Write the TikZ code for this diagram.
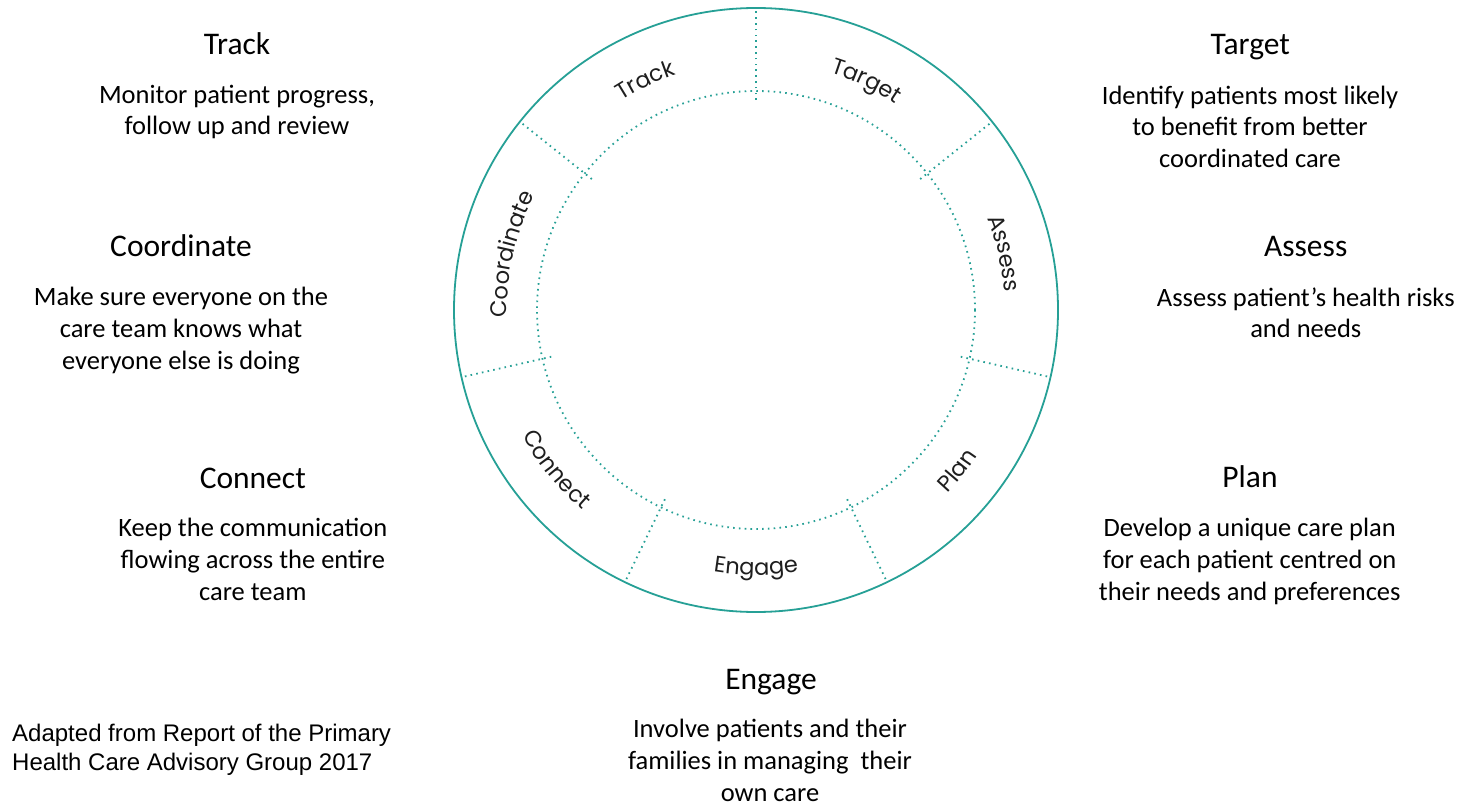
\documentclass[tikz,border=0pt]{standalone}
\usepackage{fontspec}
\setmainfont{Carlito}
\newfontfamily\notefont{Liberation Sans}
\newfontfamily\ringfont[LetterSpace=7]{Poppins}
\usetikzlibrary{calc,decorations.text}
\definecolor{ringteal}{RGB}{38,160,150}
\definecolor{ringtext}{RGB}{30,30,30}
\begin{document}
\begin{tikzpicture}[x=1pt,y=-1pt,
  ring/.style={draw=ringteal, line width=1.8pt},
  dotline/.style={draw=ringteal, line width=1.8pt, dash pattern=on 1.6pt off 4.2pt},
  head/.style={font=\fontsize{31.5}{38}\selectfont, anchor=base, inner sep=0pt},
  body/.style={font=\fontsize{26.5}{31.7}\selectfont, align=center, anchor=base, inner sep=0pt},
  note/.style={font=\notefont\fontsize{24}{28.5}\selectfont, align=left, anchor=base west, inner sep=0pt},
  arctext/.style={decorate, decoration={text along path, text align=center,
     text color=ringtext, text={|\ringfont\fontsize{22.5}{22.5}\selectfont|#1}}}
]
\fill[white] (0,0) rectangle (1464,805);
\useasboundingbox (0,0) rectangle (1464,805);
\coordinate (C) at (756,310);
% ring
\draw[ring] (C) circle[radius=302pt];
\draw[dotline] (C) circle[radius=219pt];
\foreach \i in {0,...,6}{
  \pgfmathsetmacro\a{90-\i*360/7}
  \coordinate (di\i) at ([shift={(\a:210pt)}]C);
  \coordinate (do\i) at ([shift={(\a:302pt)}]C);
  \draw[dotline] (di\i) -- (do\i);
}
% ring labels, upper ones read clockwise
\foreach \m/\t in {64.29/Target, 12.86/Assess, 167.14/Coordinate, 115.71/Track}{
  \path[arctext=\t] ([shift={(\m+25:249pt)}]C) arc[start angle=\m+25, end angle=\m-25, radius=249pt];
}
% lower ones read counter-clockwise
\foreach \m/\t in {-38.57/Plan, -90/Engage, -141.43/Connect}{
  \path[arctext=\t] ([shift={(\m-25:265pt)}]C) arc[start angle=\m-25, end angle=\m+25, radius=265pt];
}
% side texts (body nodes anchored at the baseline of their last line)
\node[head] (hTrack) at (237,55) {Track};
\node[body] (bTrack) at (237,135) {Monitor patient progress,\\follow up and review};
\node[head] (hCoord) at (181,256.7) {Coordinate};
\node[body] (bCoord) at (181,369.3) {Make sure everyone on the\\care team knows what\\everyone else is doing};
\node[head] (hConnect) at (252.8,488.3) {Connect};
\node[body] (bConnect) at (252.8,600) {Keep the communication\\flowing across the entire\\care team};
\node[head] (hTarget) at (1250.3,55) {Target};
\node[body] (bTarget) at (1250,167.7) {Identify patients most likely\\to benefit from better\\coordinated care};
\node[head] (hAssess) at (1305.7,256) {Assess};
\node[body] (bAssess) at (1305.8,337.7) {Assess patient’s health risks\\and needs};
\node[head] (hPlan) at (1250,487.7) {Plan};
\node[body] (bPlan) at (1249.7,600) {Develop a unique care plan\\for each patient centred on\\their needs and preferences};
\node[head] (hEngage) at (771,689) {Engage};
\node[body] (bEngage) at (770,801) {Involve patients and their\\families in managing\ \ their\\own care};
\node[note] (note) at (12,770) {Adapted from Report of the Primary\\Health Care Advisory Group 2017};
\end{tikzpicture}
\end{document}
